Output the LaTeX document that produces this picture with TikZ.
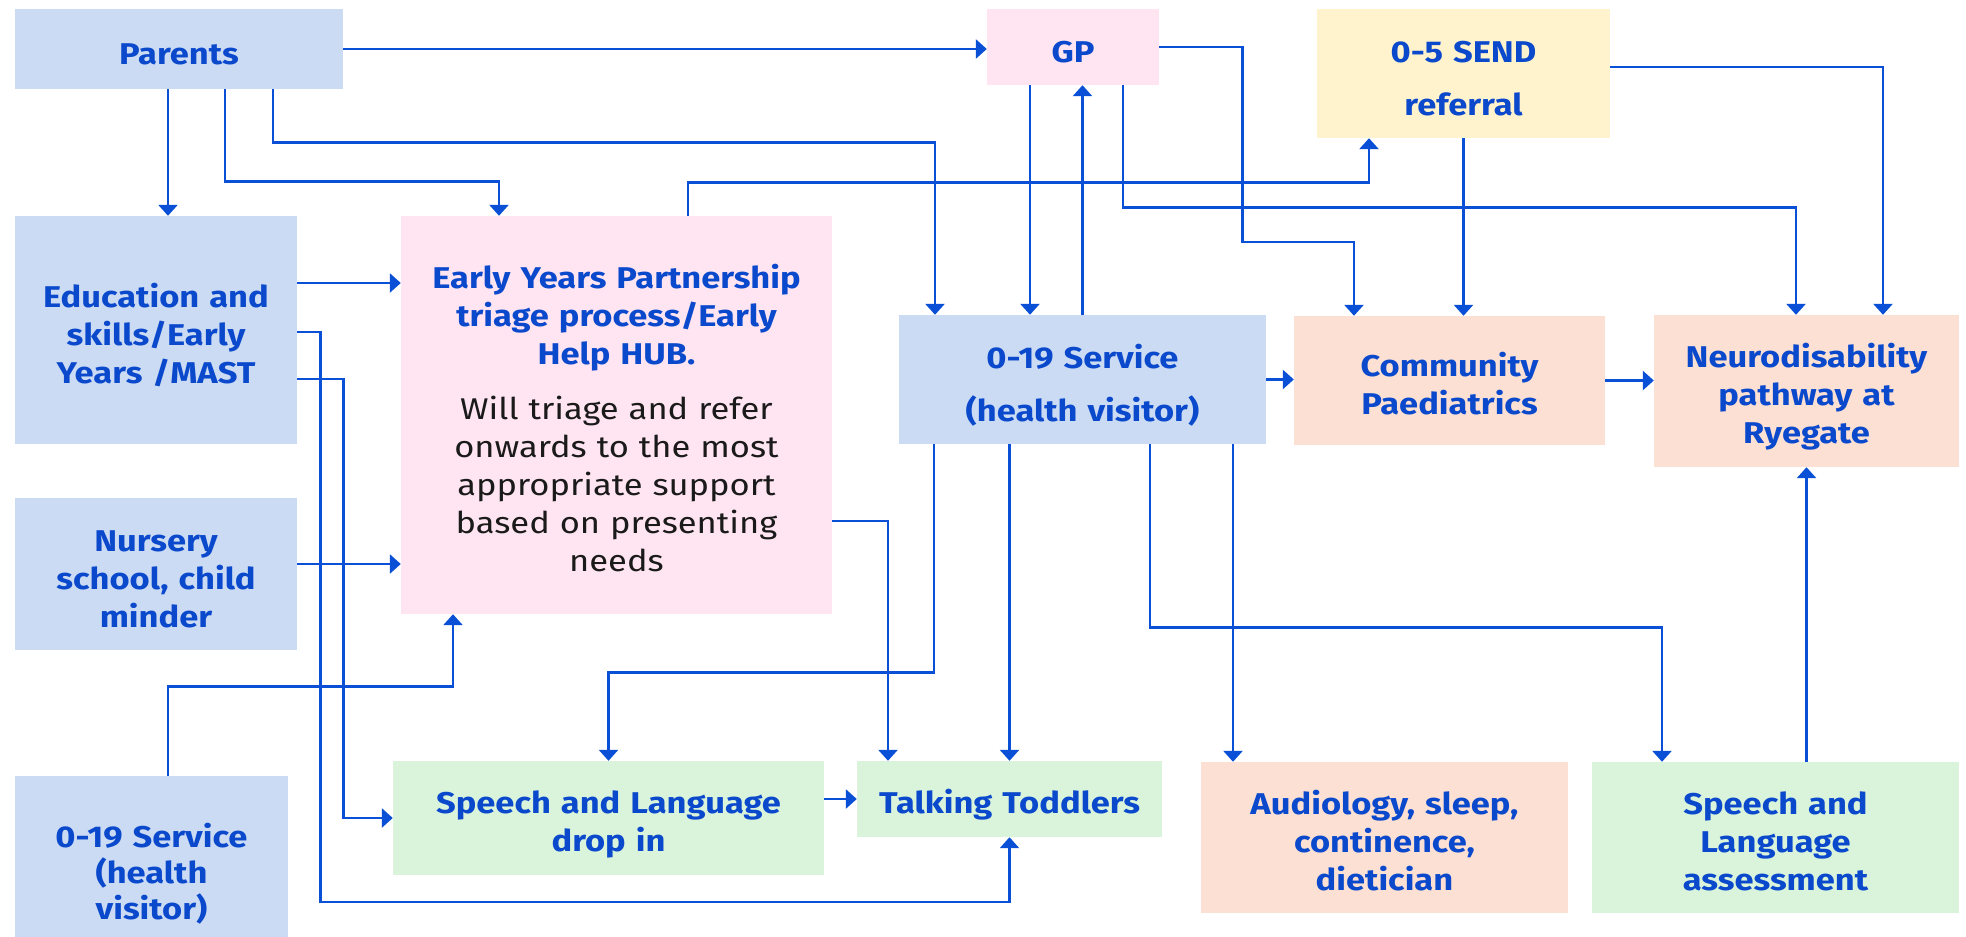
\documentclass[tikz,border=0pt]{standalone}
\usepackage{fontspec}
\setmainfont{Fira Sans}[FakeStretch=1.15]
\usetikzlibrary{arrows.meta}

\definecolor{hdblue}{HTML}{0A48CC}
\definecolor{lnblue}{HTML}{0A50D6}
\definecolor{bodyblk}{HTML}{1A1A1A}
\definecolor{fblue}{HTML}{CBDBF4}
\definecolor{fpink}{HTML}{FFE5F1}
\definecolor{fyellow}{HTML}{FFF3CD}
\definecolor{fpeach}{HTML}{FBE0D3}
\definecolor{fgreen}{HTML}{DAF4DC}

\newcommand{\tnorm}[1]{\textcolor{bodyblk}{\mdseries #1}}

\begin{document}
\begin{tikzpicture}[
    x=1pt, y=-1pt,
    linet/.style={line width=2.7pt, draw=lnblue,
      -{Triangle[width=19pt,length=11pt]}},
    punkt/.style={rectangle, inner sep=0pt, align=center,
      text=hdblue, font=\bfseries\fontsize{30}{38}\selectfont,
      execute at begin node={\rule{0pt}{36pt}},
      execute at end node={\rule[-6pt]{0pt}{6pt}}},
    wide/.style={font=\bfseries\fontsize{30}{53}\selectfont},
    tight/.style={font=\bfseries\fontsize{30}{36}\selectfont},
    boxsize/.style 2 args={minimum width=#1pt, minimum height=#2pt,
      text width=#1pt}
  ]
  \clip (0,0) rectangle (1966,937);
  \path (179,49) node(par) [punkt, fill=fblue, boxsize={328}{80}] {Parents}

  (156,330) node(edu) [punkt, fill=fblue, boxsize={282}{228}] {
    Education and\\skills/Early\\Years /MAST}
  (156,574) node(nur) [punkt, fill=fblue, boxsize={282}{152}] {
    Nursery\\school, child\\minder}
  (151.5,868) node(hvl) [punkt, tight, fill=fblue, boxsize={273}{184}] {
    0-19 Service\\(health\\visitor)}

  (616.5,415) node(ey) [punkt, fill=fpink, boxsize={431}{398}] {
    Early Years Partnership\\triage process/Early\\Help HUB.\\[17pt]
    \tnorm{Will triage and refer}\\
    \tnorm{onwards to the most}\\
    \tnorm{appropriate support}\\
    \tnorm{based on presenting}\\
    \tnorm{needs}}

  (1073,47) node(gp) [punkt, fill=fpink, boxsize={172}{76}] {GP}
  (1463.5,73.5) node(send) [punkt, wide, fill=fyellow, boxsize={293}{129}] {
    0-5 SEND\\referral}
  (1082.5,379.5) node(hv) [punkt, wide, fill=fblue, boxsize={367}{129}] {
    0-19 Service\\(health visitor)}
  (1449.5,380.5) node(cp) [punkt, fill=fpeach, boxsize={311}{129}] {
    Community\\Paediatrics}
  (1806.5,391) node(neu) [punkt, fill=fpeach, boxsize={305}{152}] {
    Neurodisability\\pathway at\\Ryegate}

  (608.5,818) node(sld) [punkt, fill=fgreen, boxsize={431}{114}] {
    Speech and Language\\drop in}
  (1009.5,799) node(tt) [punkt, fill=fgreen, boxsize={305}{76}] {
    Talking Toddlers}
  (1384.5,837.5) node(aud) [punkt, fill=fpeach, boxsize={367}{151}] {
    Audiology, sleep,\\continence,\\dietician}
  (1775.5,837.5) node(sla) [punkt, fill=fgreen, boxsize={367}{151}] {
    Speech and\\Language\\assessment};

  % from parents
  \draw[linet] (par.east) -- (par.east -| gp.west);
  \draw[linet] ([xshift=-11pt]par.south) -- ([xshift=-11pt]par.south |- edu.north);
  \draw[linet] ([xshift=46pt]par.south) -- ++(0,92) -| ([xshift=-117.5pt]ey.north);
  \draw[linet] ([xshift=94pt]par.south) -- ++(0,53) -| ([xshift=-147.5pt]hv.north);

  % left column into the hub and the groups
  \draw[linet] ([yshift=47pt]edu.east) -- ([yshift=47pt]edu.east -| ey.west);
  \draw[linet] ([yshift=-2pt]edu.east) -- ++(23.5,0) -- ++(0,570) -| (tt.south);
  \draw[linet] ([yshift=-49pt]edu.east) -- ++(46,0) |- (sld.west);
  \draw[linet] ([yshift=10pt]nur.east) -- ([yshift=10pt]nur.east -| ey.west);
  \draw[linet] ([xshift=16.5pt]hvl.north) -- ++(0,-89) -| ([xshift=-163.5pt]ey.south);

  % out of the hub
  \draw[linet] ([xshift=71.5pt]ey.north) -- ++(0,-33) -| ([xshift=-94.5pt]send.south);
  \draw[linet] ([yshift=-106pt]ey.east) -| ([xshift=-121.5pt]tt.north);

  % GP and SEND
  \draw[linet] ([xshift=-43pt]gp.south) -- ([xshift=-43pt]gp.south |- hv.north);
  \draw[linet] (hv.north) -- (hv.north |- gp.south);
  \draw[linet] ([xshift=50pt]gp.south) -- ++(0,122) -| ([xshift=-10.5pt]neu.north);
  \draw[linet] (gp.east) -- ++(83,0) -- ++(0,195) -| ([xshift=-95.5pt]cp.north);
  \draw[linet] (send.south) -- (send.south |- cp.north);
  \draw[linet] ([yshift=6.5pt]send.east) -| ([xshift=76.5pt]neu.north);

  % 0-19 service onwards
  \draw[linet] (hv.east) -- (hv.east -| cp.west);
  \draw[linet] (cp.east) -- (cp.east -| neu.west);
  \draw[linet] ([xshift=-148.5pt]hv.south) -- ++(0,228) -| (sld.north);
  \draw[linet] (tt.north |- hv.south) -- (tt.north);
  \draw[linet] ([xshift=67.5pt]hv.south) -- ++(0,183) -| ([xshift=-113.5pt]sla.north);
  \draw[linet] ([xshift=150.5pt]hv.south) -- ([xshift=150.5pt]hv.south |- aud.north);

  % bottom row
  \draw[linet] (tt.west -| sld.east) -- (tt.west);
  \draw[linet] (neu.south |- sla.north) -- (neu.south);
\end{tikzpicture}
\end{document}
